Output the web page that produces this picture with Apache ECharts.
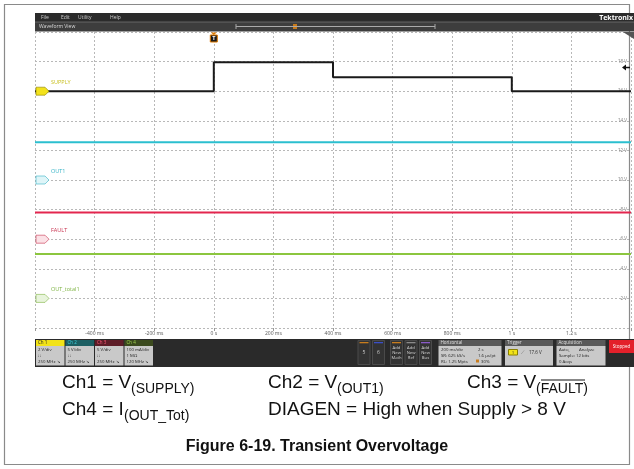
<!DOCTYPE html>
<html>
<head>
<meta charset="utf-8">
<script src="https://cdn.jsdelivr.net/npm/echarts@6/dist/echarts.min.js"></script>
<style>
  html, body { margin: 0; padding: 0; background: #fff; }
  #main { width: 634px; height: 469px; }
</style>
</head>
<body>
<div id="main"></div>
<script>
// time in ms, levels in volts read against the right-hand scale
const supplyTime = [-600, 0, 0, 400, 400, 1000, 1000, 1400];
const supplyVolts = [16, 16, 17.95, 17.95, 16.95, 16.95, 16, 16];
const out1Time = [-600, 1400];
const out1Volts = [12.55, 12.55];
const faultTime = [-600, 1400];
const faultVolts = [7.8, 7.8];
const outTotTime = [-600, 1400];
const outTotVolts = [5.0, 5.0];

const timeTicks = [-400, -200, 0, 200, 400, 600, 800, 1000, 1200];
const timeTickLabels = ["-400 ms", "-200 ms", "0 s", "200 ms", "400 ms", "600 ms", "800 ms", "1 s", "1.2 s"];
const voltTicks = [2, 4, 6, 8, 10, 12, 14, 16, 18];
const voltTickLabels = ["2 V", "4 V", "6 V", "8 V", "10 V", "12 V", "14 V", "16 V", "18 V"];

// channel labels + ground markers (marker level in volts)
const chNames = ["SUPPLY", "OUT1", "FAULT", "OUT_total1"];
const chMarkers = ["C1", "C2", "C3", "C4"];
const chMarkerVolts = [16, 10, 6, 2];
const chColors = ["#1a1a1a", "#2bbfcf", "#e3264f", "#8cc63f"];
const chTextColors = ["#c8bf1e", "#35b3c6", "#c8324f", "#7db342"];
const chMarkerFill = ["#f3e21c", "#dff5f8", "#fbe1e6", "#e8f4dc"];

const chHeads = ["Ch 1", "Ch 2", "Ch 3", "Ch 4"];
const chHeadFill = ["#f2e318", "#1d5f63", "#5e1d28", "#3b4a1e"];
const chHeadText = ["#222", "#3fd0df", "#ff5a78", "#9fd24f"];
const chScales = ["2 V/div", "5 V/div", "5 V/div", "100 mA/div"];
const chMid = ["⎍", "⎍", "⎍", "1 MΩ"];
const chBw = ["250 MHz ↘", "250 MHz ↘", "250 MHz ↘", "120 MHz ↘"];

const UI = "Open Sans";
const CAP = "Liberation Sans";

const chart = echarts.init(document.getElementById("main"));

function pairs(t, v) { return t.map((x, i) => [x, v[i]]); }

function line(name, t, v, color, z) {
  return {
    name: name, type: "line", data: pairs(t, v), symbol: "none", z: z,
    lineStyle: { color: color, width: 2 }, animation: false
  };
}

chart.setOption({
  animation: false,
  grid: { left: 35, top: 32, width: 600, height: 296 },
  xAxis: {
    type: "value", min: -600, max: 1400, interval: 200,
    axisLine: { show: false },
    axisTick: { show: true, length: 3, lineStyle: { color: "#999" } },
    axisLabel: {
      fontSize: 5, color: "#555", fontFamily: UI, margin: 3,
      formatter: v => { const i = timeTicks.indexOf(v); return i < 0 ? "" : timeTickLabels[i]; }
    },
    splitLine: { show: true, lineStyle: { color: "#b8b8b8", type: [2, 2], width: 1 } }
  },
  yAxis: {
    type: "value", min: 0, max: 20, interval: 2, position: "right",
    axisLine: { show: false }, axisTick: { show: false },
    axisLabel: {
      inside: true, fontSize: 4.5, color: "#777", fontFamily: UI, margin: 4,
      formatter: v => { const i = voltTicks.indexOf(v); return i < 0 ? "" : voltTickLabels[i]; }
    },
    splitLine: { show: true, lineStyle: { color: "#b8b8b8", type: [2, 2], width: 1 } }
  },
  series: [
    line("OUT_total1", outTotTime, outTotVolts, chColors[3], 2),
    line("FAULT", faultTime, faultVolts, chColors[2], 3),
    line("OUT1", out1Time, out1Volts, chColors[1], 4),
    line("SUPPLY", supplyTime, supplyVolts, chColors[0], 5)
  ]
});

// ---- decorations (scope chrome, markers, caption) ----
const g = [];
function rect(x, y, w, h, fill, stroke) {
  g.push({ type: "rect", shape: { x: x, y: y, width: w, height: h }, z: 10,
    style: { fill: fill, stroke: stroke || null, lineWidth: stroke ? 1 : 0 } });
}
function txt(x, y, s, opt) {
  opt = opt || {};
  g.push({ type: "text", x: x, y: y, z: 11, style: {
    text: s, fill: opt.color || "#ddd", fontSize: opt.size || 5,
    fontFamily: opt.font || UI, fontWeight: opt.weight || "normal",
    align: opt.align || "left", verticalAlign: "middle"
  } });
}

// outer figure border
g.push({ type: "rect", shape: { x: 4.5, y: 4.5, width: 625, height: 460 }, z: 0,
  style: { fill: null, stroke: "#8a8a8a", lineWidth: 1.2 } });

// menu bar + waveform view bar
rect(35, 13, 599, 9, "#2b2b2b");
rect(35, 22, 599, 9.5, "#3d3d3d");
g.push({ type: "line", shape: { x1: 35, y1: 22, x2: 634, y2: 22 }, z: 11, style: { stroke: "#888", lineWidth: 0.6 } });
txt(41, 17.5, "File", { size: 5, color: "#cfcfcf" });
txt(61, 17.5, "Edit", { size: 5, color: "#cfcfcf" });
txt(78, 17.5, "Utility", { size: 5, color: "#cfcfcf" });
txt(110, 17.5, "Help", { size: 5, color: "#cfcfcf" });
txt(633, 17.5, "Tektronix", { size: 7, color: "#fff", weight: "bold", align: "right" });
txt(39, 27, "Waveform View", { size: 5, color: "#dcdcdc" });
g.push({ type: "line", shape: { x1: 236, y1: 26.5, x2: 435, y2: 26.5 }, z: 11, style: { stroke: "#aaa", lineWidth: 1 } });
g.push({ type: "line", shape: { x1: 236, y1: 24, x2: 236, y2: 29 }, z: 11, style: { stroke: "#aaa", lineWidth: 1 } });
g.push({ type: "line", shape: { x1: 435, y1: 24, x2: 435, y2: 29 }, z: 11, style: { stroke: "#aaa", lineWidth: 1 } });
rect(293, 24, 4, 5, "#c87a1a");

// plot corner mark
g.push({ type: "polygon", shape: { points: [[623, 32], [634, 32], [634, 39]] }, z: 11, style: { fill: "#555" } });

// toolbar
rect(35, 339, 599, 28, "#2a2a2a");

chart.setOption({ graphic: g });

function px(t, v) { return chart.convertToPixel({ gridIndex: 0 }, [t, v]); }

// trigger marker at t = 0
const trg = px(0, 20);
g.push({ type: "polygon", shape: { points: [[trg[0] - 3, trg[1] + 0.5], [trg[0] + 3, trg[1] + 0.5], [trg[0], trg[1] + 3]] }, z: 12, style: { fill: "#e07b00" } });
rect(trg[0] - 3.5, trg[1] + 3, 7, 7, "#1a1a1a", "#e07b00");
txt(trg[0], trg[1] + 6.7, "T", { size: 5.5, color: "#fff", align: "center", weight: "bold" });

// trigger level marker at right
const tl = px(1400, 17.6);
g.push({ type: "polygon", shape: { points: [[tl[0] - 9, tl[1]], [tl[0] - 5, tl[1] - 3], [tl[0] - 5, tl[1] + 3]] }, z: 12, style: { fill: "#111" } });
g.push({ type: "line", shape: { x1: tl[0] - 6, y1: tl[1], x2: tl[0] - 1, y2: tl[1] }, z: 12, style: { stroke: "#111", lineWidth: 1.5 } });

// channel markers + names
chMarkers.forEach((m, i) => {
  const p = px(-600, chMarkerVolts[i]);
  const x = p[0] + 1, y = p[1];
  g.push({ type: "polygon", shape: { points: [[x, y - 4], [x + 9, y - 4], [x + 13, y], [x + 9, y + 4], [x, y + 4]] }, z: 12,
    style: { fill: chMarkerFill[i], stroke: i === 0 ? "#8a7f00" : chTextColors[i], lineWidth: 0.6 } });
  txt(x + 5.5, y + 0.3, m, { size: 4, color: "#333", align: "center" });
  txt(x + 15, y - 8.5, chNames[i], { size: 5.5, color: chTextColors[i] });
});

// channel boxes in toolbar
const boxX = [36, 65.5, 95, 124.5];
chHeads.forEach((h, i) => {
  const x = boxX[i];
  rect(x, 340, 28.5, 6, chHeadFill[i]);
  txt(x + 2, 343.2, h, { size: 4.5, color: chHeadText[i] });
  rect(x, 346, 28.5, 19.5, "#c9c9c9");
  txt(x + 2, 350, chScales[i], { size: 4.3, color: "#222" });
  txt(x + 2, 355.5, chMid[i], { size: 4.3, color: "#222" });
  txt(x + 2, 361.5, chBw[i], { size: 4.3, color: "#222" });
});

// math/ref buttons
const btnX = [358, 372.5, 390.5, 405, 419.5];
const btnStripe = ["#c87d1e", "#3a4fc8", "#c87d1e", "#8a8a8a", "#8a5ac8"];
const btnText = [["5"], ["6"], ["Add", "New", "Math"], ["Add", "New", "Ref"], ["Add", "New", "Bus"]];
btnX.forEach((x, i) => {
  rect(x, 340.5, 12, 24, "#333", "#4a4a4a");
  rect(x + 1.5, 342, 9, 1.3, btnStripe[i]);
  const lines = btnText[i];
  lines.forEach((s, k) => {
    const y = lines.length === 1 ? 353 : 348 + k * 5;
    txt(x + 6, y, s, { size: lines.length === 1 ? 5 : 4.2, color: "#cfcfcf", align: "center" });
  });
});

// Horizontal / Trigger / Acquisition panels
function panel(x, w, title) {
  rect(x, 340, w, 6, "#595959");
  txt(x + 2, 343.2, title, { size: 4.5, color: "#e0e0e0" });
  rect(x, 346, w, 19.5, "#c9c9c9");
}
panel(438.5, 63, "Horizontal");
txt(441, 350, "200 ms/div", { size: 4.3, color: "#222" });
txt(478, 350, "2 s", { size: 4.3, color: "#222" });
txt(441, 355.5, "SR: 625 kS/s", { size: 4.3, color: "#222" });
txt(478, 355.5, "1.6 µs/pt", { size: 4.3, color: "#222" });
txt(441, 361.5, "RL: 1.25 Mpts", { size: 4.3, color: "#222" });
rect(476, 359.5, 3, 3, "#c87d1e");
txt(481, 361.5, "30%", { size: 4.3, color: "#222" });

panel(505, 48, "Trigger");
rect(508.5, 349.5, 9, 5.5, "#f2e318", "#8a7f00");
txt(513, 352.3, "1", { size: 4.3, color: "#222", align: "center" });
txt(521, 352.3, "⟋", { size: 5, color: "#666" });
txt(529, 352.3, "17.6 V", { size: 4.5, color: "#222" });

panel(556.5, 49, "Acquisition");
txt(559, 350, "Auto,", { size: 4.3, color: "#222" });
txt(579, 350, "Analyze", { size: 4.3, color: "#222" });
txt(559, 355.5, "Sample: 12 bits", { size: 4.3, color: "#222" });
txt(559, 361.5, "0 Acqs", { size: 4.3, color: "#222" });

rect(609, 340, 25, 13, "#e3202a");
txt(621.5, 346.5, "Stopped", { size: 4.5, color: "#fff", align: "center" });

// caption
const capMain = 19, capSub = 14;
const capRows = [
  { x: 62, y: 383, main: "Ch1 = V", subX: 131, sub: "(SUPPLY)" },
  { x: 268, y: 383, main: "Ch2 = V", subX: 337, sub: "(OUT1)" },
  { x: 467, y: 383, main: "Ch3 = V", subX: 536, sub: "(FAULT)" },
  { x: 62, y: 410, main: "Ch4 = I", subX: 124, sub: "(OUT_Tot)" }
];
capRows.forEach(r => {
  txt(r.x, r.y, r.main, { size: capMain, color: "#111", font: CAP });
  txt(r.subX, r.y + 6, r.sub, { size: capSub, color: "#111", font: CAP });
});
// overline on FAULT
g.push({ type: "line", shape: { x1: 541, y1: 380, x2: 585, y2: 380 }, z: 11, style: { stroke: "#111", lineWidth: 1 } });
txt(268, 410, "DIAGEN = High when Supply > 8 V", { size: capMain, color: "#111", font: CAP });
txt(317, 447, "Figure 6-19. Transient Overvoltage", { size: 16, color: "#111", font: CAP, weight: "bold", align: "center" });

chart.setOption({ graphic: g });
</script>
</body>
</html>
